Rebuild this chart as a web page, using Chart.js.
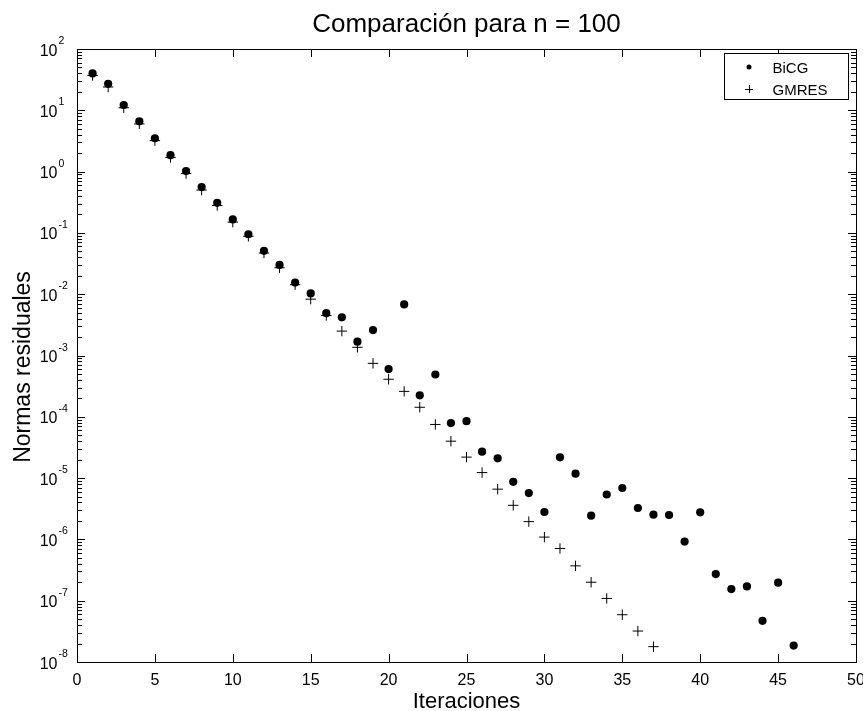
<!DOCTYPE html>
<html>
<head>
<meta charset="utf-8">
<script src="https://cdn.jsdelivr.net/npm/chart.js@4"></script>
<style>
html,body{margin:0;padding:0;background:#fff;}
#wrap{width:863px;height:711px;}
</style>
</head>
<body>
<div id="wrap"><canvas id="c" width="863" height="711"></canvas></div>
<script>
const bicgIter = [1,2,3,4,5,6,7,8,9,10,11,12,13,14,15,16,17,18,19,20,21,22,23,24,25,26,27,28,29,30,31,32,33,34,35,36,37,38,39,40,41,42,43,44,45,46];
const bicgRes = [40,27,12.2,6.6,3.5,1.85,1.02,0.56,0.31,0.166,0.095,0.051,0.030,0.0155,0.0103,0.0049,0.0042,0.00168,0.0026,0.0006,0.0068,0.000224,0.00049,7.9e-5,8.5e-5,2.7e-5,2.1e-5,8.7e-6,5.7e-6,2.8e-6,2.18e-5,1.18e-5,2.44e-6,5.4e-6,6.9e-6,3.25e-6,2.53e-6,2.5e-6,9.2e-7,2.77e-6,2.72e-7,1.55e-7,1.71e-7,4.7e-8,1.97e-7,1.85e-8];
const gmresIter = [1,2,3,4,5,6,7,8,9,10,11,12,13,14,15,16,17,18,19,20,21,22,23,24,25,26,27,28,29,30,31,32,33,34,35,36,37];
const gmresRes = [37,24,11,6.0,3.2,1.7,0.93,0.5,0.28,0.15,0.088,0.047,0.027,0.0143,0.0083,0.0045,0.0025,0.00136,0.000745,0.00041,0.00026,0.000143,7.5e-5,4.0e-5,2.2e-5,1.23e-5,6.6e-6,3.6e-6,1.95e-6,1.09e-6,7.1e-7,3.7e-7,2.0e-7,1.09e-7,5.9e-8,3.2e-8,1.78e-8];
const xTicks = [0,5,10,15,20,25,30,35,40,45,50];
const yExponents = [2,1,0,-1,-2,-3,-4,-5,-6,-7,-8];
const titleText = 'Comparación para n = 100';
const xTitle = 'Iteraciones';
const yTitle = 'Normas residuales';
const legendNames = ['BiCG','GMRES'];

const FONT = '"Liberation Sans", Arial, Helvetica, sans-serif';

const decor = {
  id: 'decor',
  afterDraw(chart) {
    const ctx = chart.ctx;
    const a = chart.chartArea;
    const xs = chart.scales.x, ys = chart.scales.y;
    ctx.save();
    ctx.strokeStyle = '#000';
    ctx.fillStyle = '#000';
    ctx.lineWidth = 1;
    ctx.strokeRect(Math.round(a.left)+0.5, Math.round(a.top)+0.5, Math.round(a.right-a.left), Math.round(a.bottom-a.top));
    ctx.beginPath();
    xTicks.forEach(v => {
      const px = Math.round(xs.getPixelForValue(v)) + 0.5;
      ctx.moveTo(px, a.bottom); ctx.lineTo(px, a.bottom - 8);
      ctx.moveTo(px, a.top); ctx.lineTo(px, a.top + 8);
    });
    yExponents.forEach(e => {
      const py = Math.round(ys.getPixelForValue(Math.pow(10, e))) + 0.5;
      ctx.moveTo(a.left, py); ctx.lineTo(a.left + 8, py);
      ctx.moveTo(a.right, py); ctx.lineTo(a.right - 8, py);
      if (e < 2) {
        for (let m = 2; m <= 9; m++) {
          const pm = Math.round(ys.getPixelForValue(m * Math.pow(10, e))) + 0.5;
          ctx.moveTo(a.left, pm); ctx.lineTo(a.left + 5, pm);
          ctx.moveTo(a.right, pm); ctx.lineTo(a.right - 5, pm);
        }
      }
    });
    ctx.stroke();
    ctx.font = '16px ' + FONT;
    ctx.textAlign = 'center';
    ctx.textBaseline = 'alphabetic';
    xTicks.forEach(v => {
      ctx.fillText(String(v), xs.getPixelForValue(v), 684.5);
    });
    yExponents.forEach(e => {
      const py = ys.getPixelForValue(Math.pow(10, e));
      ctx.font = '16px ' + FONT;
      ctx.textAlign = 'right';
      ctx.fillText('10', 57.5, py + 6.5);
      ctx.font = '10.5px ' + FONT;
      ctx.textAlign = 'left';
      ctx.fillText(String(e), 58.5, py - 5);
    });
    ctx.font = '26px ' + FONT;
    ctx.textAlign = 'center';
    ctx.fillText(titleText, (a.left + a.right) / 2, 31.5);
    ctx.font = '22px ' + FONT;
    ctx.fillText(xTitle, (a.left + a.right) / 2, 708);
    ctx.save();
    ctx.translate(30, 367);
    ctx.rotate(-Math.PI / 2);
    ctx.font = '23px ' + FONT;
    ctx.textAlign = 'center';
    ctx.fillText(yTitle, 0, 0);
    ctx.restore();
    const lx = 724.5, ly = 53.5, lw = 124, lh = 46;
    ctx.fillStyle = '#fff';
    ctx.fillRect(lx, ly, lw, lh);
    ctx.strokeRect(lx, ly, lw, lh);
    ctx.fillStyle = '#000';
    ctx.beginPath();
    ctx.arc(749, 67, 2.5, 0, Math.PI * 2);
    ctx.fill();
    ctx.beginPath();
    ctx.moveTo(745, 89.5); ctx.lineTo(753, 89.5);
    ctx.moveTo(749.5, 85); ctx.lineTo(749.5, 93);
    ctx.stroke();
    ctx.font = '15px ' + FONT;
    ctx.textAlign = 'left';
    ctx.fillText(legendNames[0], 772.5, 72.5);
    ctx.fillText(legendNames[1], 772.5, 94.5);
    ctx.restore();
  }
};

new Chart(document.getElementById('c'), {
  type: 'scatter',
  data: {
    datasets: [
      {
        label: legendNames[0],
        data: bicgIter.map((x, i) => ({x: x, y: bicgRes[i]})),
        pointStyle: 'circle',
        pointRadius: 4.1,
        pointHoverRadius: 4.1,
        backgroundColor: '#000',
        borderColor: '#000',
        borderWidth: 0,
        showLine: false
      },
      {
        label: legendNames[1],
        data: gmresIter.map((x, i) => ({x: x, y: gmresRes[i]})),
        pointStyle: 'cross',
        pointRadius: 5.2,
        pointHoverRadius: 5.2,
        backgroundColor: '#000',
        borderColor: '#000',
        borderWidth: 1,
        showLine: false
      }
    ]
  },
  options: {
    responsive: false,
    animation: false,
    events: [],
    layout: { padding: { left: 77, right: 7, top: 49, bottom: 49 } },
    plugins: { legend: { display: false }, title: { display: false }, tooltip: { enabled: false } },
    scales: {
      x: { type: 'linear', min: 0, max: 50, display: false },
      y: { type: 'logarithmic', min: 1e-8, max: 100, display: false }
    }
  },
  plugins: [decor]
});
</script>
</body>
</html>
